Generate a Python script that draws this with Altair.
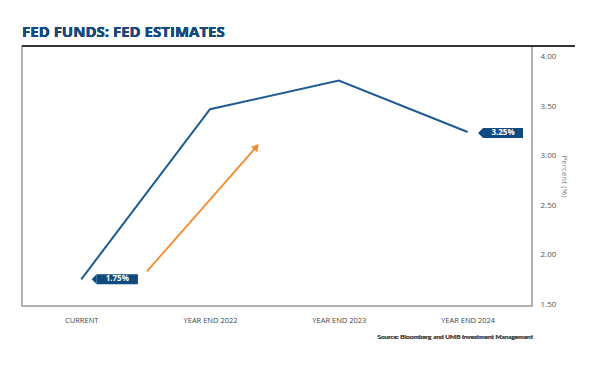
import altair as alt
import pandas as pd

categories = ["CURRENT", "YEAR END 2022", "YEAR END 2023", "YEAR END 2024"]
rates = [1.75, 3.47, 3.76, 3.24]

tag_labels = ["1.75%", "3.25%"]
tag_x_start = [0.12, 3.12]
tag_x_end = [0.44, 3.43]
tag_y = [1.75, 3.23]

arrow_x = [0.51, 1.36]
arrow_y = [1.83, 3.09]

y_ticks = [1.5, 2.0, 2.5, 3.0, 3.5, 4.0]

BLUE = "#1f5a92"
TAG = "#0f4a80"
ORANGE = "#f58a2c"
FONT = "Open Sans"

line_df = pd.DataFrame({"i": list(range(len(categories))), "rate": rates})
tag_df = pd.DataFrame({"label": tag_labels, "x0": tag_x_start, "x1": tag_x_end, "y": tag_y})
tag_df["y0"] = tag_df["y"] - 0.05
tag_df["y1"] = tag_df["y"] + 0.05
tag_df["xm"] = (tag_df["x0"] + tag_df["x1"]) / 2
arrow_df = pd.DataFrame({"x": arrow_x, "y": arrow_y})
head_df = arrow_df.tail(1)

label_expr = "[" + ",".join("'" + c + "'" for c in categories) + "][datum.value]"

xscale = alt.Scale(domain=[-0.46, 3.5], nice=False, zero=False)
yscale = alt.Scale(domain=[1.48, 4.11], nice=False, zero=False)

x_enc = alt.X("i:Q", scale=xscale, axis=alt.Axis(
    values=[0, 1, 2, 3], labelExpr=label_expr, title=None, domain=False, ticks=False,
    grid=False, labelPadding=10, labelFontSize=7.5, labelColor="#444", labelFont=FONT))
y_enc = alt.Y("rate:Q", scale=yscale, axis=alt.Axis(
    orient="right", values=y_ticks, format=".2f", domain=False, ticks=False, grid=False,
    labelPadding=8, labelFontSize=8, labelColor="#555", labelFont=FONT,
    title="Percent (%)", titleFontSize=8, titleFontWeight="normal", titleColor="#888",
    titleFont=FONT, titlePadding=4))

line = alt.Chart(line_df).mark_line(color=BLUE, strokeWidth=2).encode(x=x_enc, y=y_enc)

tag_rect = alt.Chart(tag_df).mark_rect(color=TAG).encode(
    x=alt.X("x0:Q", scale=xscale), x2="x1:Q",
    y=alt.Y("y0:Q", scale=yscale), y2="y1:Q")
tag_tri = alt.Chart(tag_df).mark_point(
    shape="M -1 0 L 0 -1 L 0 1 Z", filled=True, color=TAG, opacity=1, size=100, strokeWidth=0
).encode(x=alt.X("x0:Q", scale=xscale), y=alt.Y("y:Q", scale=yscale))
tag_text = alt.Chart(tag_df).mark_text(
    color="white", fontSize=8, fontWeight="bold", font=FONT, baseline="middle", align="center"
).encode(x=alt.X("xm:Q", scale=xscale), y=alt.Y("y:Q", scale=yscale), text="label:N")

arrow = alt.Chart(arrow_df).mark_line(color=ORANGE, strokeWidth=1.8).encode(
    x=alt.X("x:Q", scale=xscale), y=alt.Y("y:Q", scale=yscale))
head = alt.Chart(head_df).mark_point(
    shape="triangle-up", angle=41, filled=True, color=ORANGE, opacity=1, size=70, strokeWidth=0
).encode(x=alt.X("x:Q", scale=xscale), y=alt.Y("y:Q", scale=yscale))

top_rule = alt.Chart(line_df).mark_rule(color="#333", strokeWidth=2).encode(
    x=alt.value(0), x2=alt.value(553), y=alt.value(0))

title = alt.Chart(line_df).mark_text(
    text="FED FUNDS: FED ESTIMATES", align="left", baseline="alphabetic",
    fontSize=15, fontWeight="bold", font=FONT, color="#17497d"
).encode(x=alt.value(0), y=alt.value(-9))

source = alt.Chart(line_df).mark_text(
    text="Source: Bloomberg and UMB Investment Management", align="right", baseline="middle",
    fontSize=6.5, fontWeight="normal", font="Lato", color="#555"
).encode(x=alt.value(511), y=alt.value(31 + 260))

chart = alt.layer(line, arrow, head, tag_rect, tag_tri, tag_text, top_rule, title, source).properties(
    width=510, height=260,
    autosize=alt.AutoSizeParams(type="none"),
    padding={"left": 14, "top": 38, "right": 60, "bottom": 53},
).configure_view(stroke="#999", strokeWidth=1.5)

chart.save("out.html", embed_options={"renderer": "svg", "actions": False})
